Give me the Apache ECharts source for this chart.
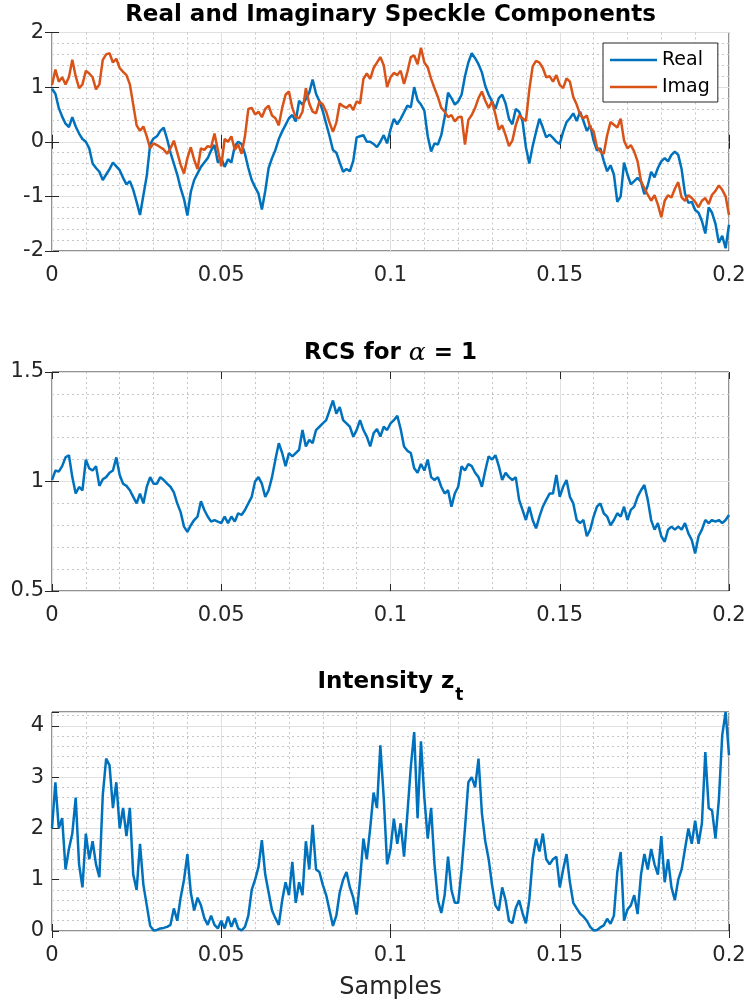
<!DOCTYPE html>
<html>
<head>
<meta charset="utf-8">
<script src="https://cdn.jsdelivr.net/npm/echarts@6/dist/echarts.min.js"></script>
<style>
  html, body { margin: 0; padding: 0; background: #ffffff; }
  #chart { width: 750px; height: 1006px; }
</style>
</head>
<body>
<div id="chart"></div>
<script>
// Sample spacing along the x axis (one value per step)
const sampleStep = 0.001;

// Real part of the speckle process
const realPart = [
  0.97, 0.88, 0.62, 0.46, 0.33, 0.27, 0.45, 0.28, 0.15, 0.05,
  0.00, -0.12, -0.40, -0.48, -0.55, -0.70, -0.60, -0.50, -0.38, -0.45,
  -0.52, -0.66, -0.78, -0.72, -0.88, -1.10, -1.34, -0.98, -0.62, -0.05,
  0.06, 0.10, 0.20, 0.26, 0.05, -0.20, -0.40, -0.60, -0.85, -1.05,
  -1.35, -0.92, -0.70, -0.58, -0.46, -0.38, -0.30, -0.16, -0.06, -0.38,
  -0.30, -0.46, -0.32, -0.38, -0.08, 0.00, -0.04, -0.22, -0.48, -0.70,
  -0.83, -0.95, -1.24, -0.90, -0.48, -0.30, -0.15, 0.05, 0.19, 0.31,
  0.43, 0.49, 0.37, 0.75, 0.68, 0.78, 0.90, 1.14, 0.88, 0.74,
  0.56, 0.33, 0.10, -0.15, -0.20, -0.38, -0.55, -0.50, -0.54, -0.35,
  0.08, 0.10, 0.12, 0.00, 0.00, -0.04, -0.10, 0.00, 0.12, -0.03,
  0.22, 0.42, 0.32, 0.42, 0.54, 0.66, 0.63, 1.00, 0.76, 0.68,
  0.57, 0.10, -0.18, -0.03, -0.05, 0.12, 0.45, 0.90, 0.80, 0.68,
  0.74, 0.86, 1.20, 1.45, 1.62, 1.53, 1.42, 1.27, 1.02, 0.86,
  0.74, 0.60, 0.80, 0.86, 0.70, 0.42, 0.32, 0.60, 0.55, 0.38,
  -0.10, -0.40, -0.08, 0.18, 0.42, 0.26, 0.08, 0.13, 0.07, 0.00,
  -0.04, 0.18, 0.36, 0.43, 0.52, 0.38, 0.55, 0.38, 0.20, 0.30,
  0.02, -0.16, -0.12, -0.35, -0.54, -0.43, -0.60, -1.10, -1.00, -0.38,
  -0.60, -0.78, -0.72, -0.66, -0.73, -0.96, -0.80, -0.55, -0.65, -0.48,
  -0.36, -0.30, -0.36, -0.24, -0.18, -0.24, -0.50, -0.95, -1.12, -1.10,
  -1.25, -1.30, -1.45, -1.68, -1.20, -1.30, -1.50, -1.85, -1.72, -1.95,
  -1.52
];

// Imaginary part of the speckle process
const imagPart = [
  1.04, 1.32, 1.10, 1.18, 1.05, 1.18, 1.50, 1.20, 0.98, 1.05,
  1.30, 1.25, 1.18, 0.96, 1.05, 1.50, 1.60, 1.62, 1.45, 1.52,
  1.35, 1.28, 1.22, 1.05, 0.68, 0.30, 0.20, 0.28, 0.10, -0.12,
  -0.03, -0.06, -0.10, -0.14, -0.22, -0.12, 0.02, -0.20, -0.42, -0.58,
  -0.30, -0.10, -0.33, -0.50, -0.12, -0.15, -0.08, -0.10, 0.15, -0.15,
  -0.45, 0.05, 0.00, 0.10, -0.15, -0.05, -0.22, 0.10, 0.60, 0.62,
  0.50, 0.55, 0.45, 0.60, 0.66, 0.48, 0.43, 0.30, 0.62, 0.86,
  0.92, 0.62, 0.45, 0.43, 0.55, 0.98, 0.70, 0.55, 0.52, 0.74,
  0.68, 0.55, 0.35, 0.18, 0.35, 0.70, 0.65, 0.62, 0.68, 0.58,
  0.74, 0.70, 1.15, 1.25, 1.15, 1.35, 1.45, 1.55, 1.40, 1.00,
  1.18, 1.26, 1.22, 1.30, 1.06, 1.28, 1.55, 1.58, 1.42, 1.72,
  1.45, 1.36, 1.15, 0.98, 0.82, 0.62, 0.55, 0.45, 0.49, 0.37,
  0.45, 0.46, -0.05, 0.40, 0.49, 0.62, 0.80, 0.92, 0.75, 0.62,
  0.74, 0.50, 0.22, 0.30, 0.12, -0.08, 0.02, 0.30, 0.48, 0.43,
  0.38, 0.95, 1.38, 1.48, 1.45, 1.35, 1.18, 1.20, 1.10, 1.22,
  1.04, 0.98, 1.16, 1.10, 0.82, 0.68, 0.50, 0.43, 0.48, 0.26,
  0.19, -0.10, -0.18, -0.22, 0.12, 0.36, 0.31, 0.26, 0.42, 0.02,
  -0.12, -0.06, -0.18, -0.36, -0.72, -0.85, -0.97, -1.08, -0.98, -1.15,
  -1.38, -1.08, -0.98, -1.02, -0.86, -0.74, -1.02, -1.08, -0.98, -1.03,
  -1.10, -1.20, -1.08, -1.03, -1.14, -0.97, -0.90, -0.80, -0.88, -1.00,
  -1.34
];

// Radar cross section texture (alpha = 1)
const rcs = [
  1.007, 1.05, 1.045, 1.07, 1.11, 1.12, 1.02, 0.945, 0.975, 0.96,
  1.10, 1.06, 1.05, 1.07, 0.98, 1.01, 1.02, 1.04, 1.05, 1.11,
  1.03, 0.99, 0.98, 0.96, 0.93, 0.90, 0.945, 0.90, 0.976, 1.02,
  0.99, 0.99, 1.02, 1.007, 0.99, 0.976, 0.95, 0.90, 0.86, 0.794,
  0.77, 0.80, 0.824, 0.84, 0.91, 0.87, 0.84, 0.817, 0.824, 0.817,
  0.81, 0.84, 0.81, 0.84, 0.817, 0.855, 0.847, 0.87, 0.90, 0.93,
  1.00, 1.02, 0.99, 0.93, 0.96, 1.02, 1.10, 1.175, 1.13, 1.07,
  1.13, 1.115, 1.13, 1.145, 1.235, 1.16, 1.19, 1.175, 1.235, 1.25,
  1.265, 1.28, 1.325, 1.37, 1.31, 1.34, 1.28, 1.265, 1.25, 1.205,
  1.235, 1.28, 1.235, 1.205, 1.16, 1.22, 1.24, 1.205, 1.25, 1.235,
  1.265, 1.28, 1.30, 1.24, 1.16, 1.14, 1.13, 1.06, 1.04, 1.08,
  1.05, 1.10, 1.02, 1.007, 1.02, 0.976, 0.945, 0.96, 0.885, 0.945,
  0.976, 1.07, 1.05, 1.08, 1.07, 1.04, 1.02, 0.976, 1.05, 1.115,
  1.10, 1.12, 1.07, 1.007, 1.04, 1.02, 1.007, 1.02, 0.916, 0.87,
  0.824, 0.885, 0.824, 0.786, 0.84, 0.885, 0.916, 0.945, 0.945, 1.03,
  0.93, 0.976, 1.007, 0.93, 0.90, 0.824, 0.81, 0.824, 0.75, 0.78,
  0.84, 0.885, 0.90, 0.855, 0.84, 0.80, 0.824, 0.855, 0.84, 0.885,
  0.824, 0.87, 0.885, 0.93, 0.96, 0.984, 0.916, 0.824, 0.78, 0.81,
  0.75, 0.725, 0.78, 0.794, 0.78, 0.794, 0.78, 0.81, 0.763, 0.733,
  0.672, 0.75, 0.78, 0.824, 0.81, 0.824, 0.817, 0.824, 0.81, 0.824,
  0.847
];

// Intensity z_t
const intensity = [
  2.00, 2.90, 2.00, 2.20, 1.20, 1.60, 1.90, 2.60, 1.30, 0.85,
  1.90, 1.40, 1.75, 1.30, 1.05, 2.65, 3.36, 3.23, 2.40, 2.90,
  2.00, 2.40, 1.85, 2.40, 1.10, 0.80, 1.70, 0.90, 0.50, 0.10,
  0.01, 0.02, 0.05, 0.06, 0.08, 0.12, 0.44, 0.20, 0.65, 1.00,
  1.50, 0.75, 0.40, 0.65, 0.50, 0.25, 0.12, 0.30, 0.12, 0.05,
  0.20, 0.05, 0.28, 0.08, 0.25, 0.05, 0.01, 0.08, 0.30, 0.80,
  1.00, 1.25, 1.77, 1.10, 0.75, 0.40, 0.25, 0.12, 0.60, 0.95,
  0.70, 1.35, 0.55, 0.95, 0.70, 1.75, 1.20, 2.07, 1.20, 1.15,
  0.90, 0.70, 0.40, 0.10, 0.30, 0.75, 1.00, 1.15, 0.85, 0.65,
  0.32, 1.00, 1.80, 1.40, 2.00, 2.70, 2.40, 3.62, 2.60, 1.30,
  1.60, 2.19, 1.70, 2.10, 1.45, 2.30, 3.20, 3.88, 2.20, 3.70,
  2.60, 1.80, 2.40, 1.30, 0.60, 0.35, 0.70, 1.45, 0.80, 0.55,
  0.55, 1.20, 2.00, 2.90, 3.00, 2.80, 3.36, 2.30, 1.75, 1.40,
  0.90, 0.50, 0.40, 0.85, 0.60, 0.20, 0.15, 0.45, 0.60, 0.35,
  0.15, 0.60, 1.40, 1.80, 1.55, 1.90, 1.40, 1.30, 1.40, 1.45,
  0.85, 1.20, 1.50, 0.95, 0.55, 0.44, 0.34, 0.28, 0.20, 0.08,
  0.01, 0.02, 0.07, 0.11, 0.24, 0.14, 0.30, 1.15, 1.54, 0.20,
  0.42, 0.50, 0.70, 0.33, 1.10, 1.50, 1.20, 1.60, 1.30, 1.10,
  1.85, 0.95, 1.40, 0.85, 0.60, 1.00, 1.20, 1.60, 2.00, 1.70,
  2.15, 1.70, 2.10, 3.49, 2.40, 2.35, 1.80, 2.55, 3.82, 4.27,
  3.43
];

const FONT = 'DejaVu Sans';
const AXIS_COLOR = '#262626';
const BLUE = '#0072BD';
const ORANGE = '#D95319';
const LINE_WIDTH = 2.5;

// Pair each value with its sample position
function toPoints(values) {
  return values.map((v, i) => [+(i * sampleStep).toFixed(4), v]);
}

// Plot areas of the three stacked panels
const panels = [
  { top: 32.5, height: 218.5, yMin: -2, yMax: 2, yInterval: 1 },
  { top: 372, height: 219, yMin: 0.5, yMax: 1.5, yInterval: 0.5 },
  { top: 712, height: 219, yMin: 0, yMax: 'dataMax', yInterval: 1 }
];
const PLOT_LEFT = 52;
const PLOT_RIGHT = 21;
const plotCenterX = PLOT_LEFT + (750 - PLOT_LEFT - PLOT_RIGHT) / 2;

const grids = panels.map(p => ({
  left: PLOT_LEFT, right: PLOT_RIGHT, top: p.top, height: p.height,
  show: true, borderColor: AXIS_COLOR, borderWidth: 1,
  backgroundColor: '#ffffff', containLabel: false
}));

const tickStyle = { show: true, inside: true, length: 7, lineStyle: { color: AXIS_COLOR, width: 1 } };
const majorGrid = { show: true, lineStyle: { color: '#e0e0e0', width: 1 } };
const minorGrid = { show: true, lineStyle: { color: '#c6c6c6', width: 1, type: [2, 3] } };
const labelStyle = { fontSize: 21, color: AXIS_COLOR, fontFamily: FONT };

const xAxes = [];
const yAxes = [];
panels.forEach((p, g) => {
  xAxes.push({
    type: 'value', gridIndex: g, position: 'bottom',
    min: 0, max: 0.2, interval: 0.05,
    axisLine: { show: false },
    axisTick: tickStyle,
    axisLabel: Object.assign({ margin: 14 }, labelStyle),
    splitLine: majorGrid,
    minorTick: { show: false, splitNumber: 5 },
    minorSplitLine: minorGrid,
    name: g === 2 ? 'Samples' : '',
    nameLocation: 'middle', nameGap: 45,
    nameTextStyle: { fontSize: 24, color: AXIS_COLOR, fontFamily: FONT }
  });
  xAxes.push({
    type: 'value', gridIndex: g, position: 'top',
    min: 0, max: 0.2, interval: 0.05,
    axisLine: { show: false }, axisTick: tickStyle,
    axisLabel: { show: false }, splitLine: { show: false }
  });
  yAxes.push({
    type: 'value', gridIndex: g, position: 'left',
    min: p.yMin, max: p.yMax, interval: p.yInterval,
    axisLine: { show: false },
    axisTick: tickStyle,
    axisLabel: Object.assign({
      margin: 8,
      formatter: v => (Math.abs(v / p.yInterval - Math.round(v / p.yInterval)) < 1e-6 ? String(+v.toFixed(2)) : '')
    }, labelStyle),
    splitLine: majorGrid,
    minorTick: { show: false, splitNumber: 5 },
    minorSplitLine: minorGrid
  });
  yAxes.push({
    type: 'value', gridIndex: g, position: 'right',
    min: p.yMin, max: p.yMax, interval: p.yInterval,
    axisLine: { show: false }, axisTick: tickStyle,
    axisLabel: { show: false }, splitLine: { show: false }
  });
});

// Panel titles, centred over each plot area
const boldToken = { fontSize: 23, fontWeight: 'bold', fontFamily: FONT, fill: '#000000' };
const titles = [
  {
    type: 'text', x: plotCenterX, y: 15, z: 100,
    style: Object.assign({ text: 'Real and Imaginary Speckle Components', align: 'center', verticalAlign: 'middle' }, boldToken)
  },
  {
    type: 'text', x: plotCenterX, y: 353, z: 100,
    style: {
      text: '{b|RCS for }{g|α}{b| = 1}', align: 'center', verticalAlign: 'middle',
      rich: {
        b: boldToken,
        g: { fontSize: 25, fontStyle: 'italic', fontWeight: 'normal', fontFamily: 'DejaVu Serif', fill: '#000000' }
      }
    }
  },
  {
    type: 'text', x: plotCenterX, y: 682, z: 100,
    style: {
      text: '{b|Intensity z}{s|t}', align: 'center', verticalAlign: 'middle',
      rich: {
        b: boldToken,
        s: { fontSize: 17, fontWeight: 'bold', fontFamily: FONT, fill: '#000000', padding: [28, 0, 0, 1] }
      }
    }
  }
];

const option = {
  animation: false,
  backgroundColor: '#ffffff',
  graphic: titles,
  legend: {
    data: [{ name: 'Real', icon: 'rect' }, { name: 'Imag', icon: 'rect' }],
    orient: 'vertical',
    left: 603, top: 43,
    backgroundColor: '#ffffff',
    borderColor: AXIS_COLOR, borderWidth: 1, borderRadius: 0,
    padding: [7, 8, 5, 7],
    itemGap: 7, itemWidth: 47, itemHeight: LINE_WIDTH,
    textStyle: { fontSize: 19, color: '#000000', fontFamily: FONT, lineHeight: 20 }
  },
  grid: grids,
  xAxis: xAxes,
  yAxis: yAxes,
  series: [
    {
      name: 'Real', type: 'line', xAxisIndex: 0, yAxisIndex: 0,
      data: toPoints(realPart), symbol: 'none',
      lineStyle: { color: BLUE, width: LINE_WIDTH }, itemStyle: { color: BLUE }
    },
    {
      name: 'Imag', type: 'line', xAxisIndex: 0, yAxisIndex: 0,
      data: toPoints(imagPart), symbol: 'none',
      lineStyle: { color: ORANGE, width: LINE_WIDTH }, itemStyle: { color: ORANGE }
    },
    {
      name: 'RCS', type: 'line', xAxisIndex: 2, yAxisIndex: 2,
      data: toPoints(rcs), symbol: 'none',
      lineStyle: { color: BLUE, width: LINE_WIDTH }, itemStyle: { color: BLUE }
    },
    {
      name: 'Intensity', type: 'line', xAxisIndex: 4, yAxisIndex: 4,
      data: toPoints(intensity), symbol: 'none',
      lineStyle: { color: BLUE, width: LINE_WIDTH }, itemStyle: { color: BLUE }
    }
  ]
};

const chart = echarts.init(document.getElementById('chart'), null, { renderer: 'canvas' });
chart.setOption(option);
</script>
</body>
</html>
